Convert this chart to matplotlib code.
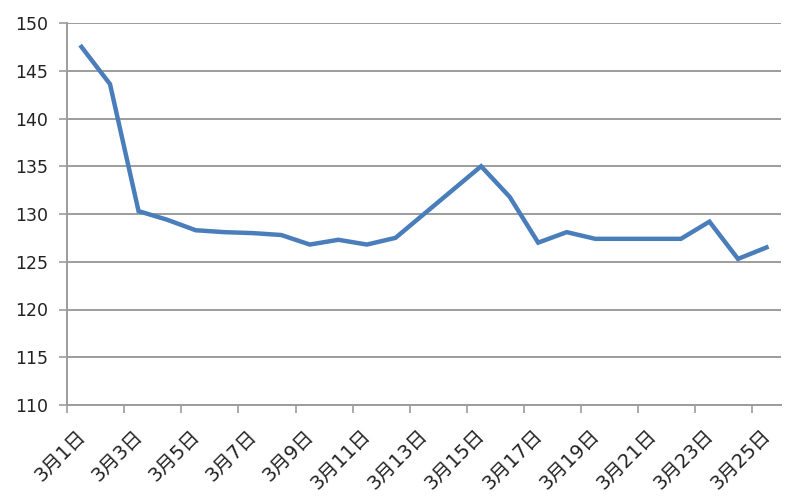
import matplotlib
matplotlib.use("Agg")
import matplotlib.pyplot as plt
import matplotlib.transforms as mtransforms

plt.rcParams['font.family'] = ['DejaVu Sans', 'Noto Sans CJK SC']

# daily values, 3月1日 .. 3月25日
days = [f'3月{d}日' for d in range(1, 26)]
values = [147.5, 143.6, 130.3, 129.4, 128.3, 128.1, 128.0, 127.8, 126.8, 127.3,
          126.8, 127.5, 130.0, 132.5, 135.0, 131.8, 127.0, 128.1, 127.4, 127.4,
          127.4, 127.4, 129.2, 125.3, 126.5]
y_ticks = [110, 115, 120, 125, 130, 135, 140, 145, 150]

fig = plt.figure(figsize=(8, 5), dpi=100)
ax = fig.add_axes([0.084, 0.19, 0.892, 0.764])

x = list(range(len(days)))
ax.plot(x, values, color='#4a7ebb', linewidth=3.2, solid_joinstyle='miter', zorder=3)

ax.set_xlim(-0.5, len(days) - 0.5)
ax.set_ylim(110, 150)

# y axis
ax.set_yticks(y_ticks)
ax.set_yticklabels([str(v) for v in y_ticks])
ax.yaxis.grid(True, color='#9c9c9c', linewidth=1.4)
ax.tick_params(axis='y', length=6, width=1.2, color='#9c9c9c', pad=8,
               labelsize=12.5, labelcolor='#222222')

# x axis: labels every other day, tick marks between categories
ax.set_xticks(x[::2])
ax.set_xticklabels(days[::2], rotation=45, ha='right', va='center',
                   rotation_mode='anchor')
ax.set_xticks([i - 0.5 for i in range(0, len(days), 2)], minor=True)
ax.tick_params(axis='x', which='major', length=0, pad=20, labelsize=14,
               labelcolor='#222222')
ax.tick_params(axis='x', which='minor', length=6, width=1.2, color='#9c9c9c')
shift = mtransforms.ScaledTranslation(1 / 100, 0, fig.dpi_scale_trans)
for lbl in ax.get_xticklabels():
    lbl.set_transform(lbl.get_transform() + shift)

for side in ['top', 'right']:
    ax.spines[side].set_visible(False)
for side in ['left', 'bottom']:
    ax.spines[side].set_color('#9c9c9c')
    ax.spines[side].set_linewidth(1.4)
ax.set_axisbelow(True)

fig.savefig('out.png', dpi=100)
